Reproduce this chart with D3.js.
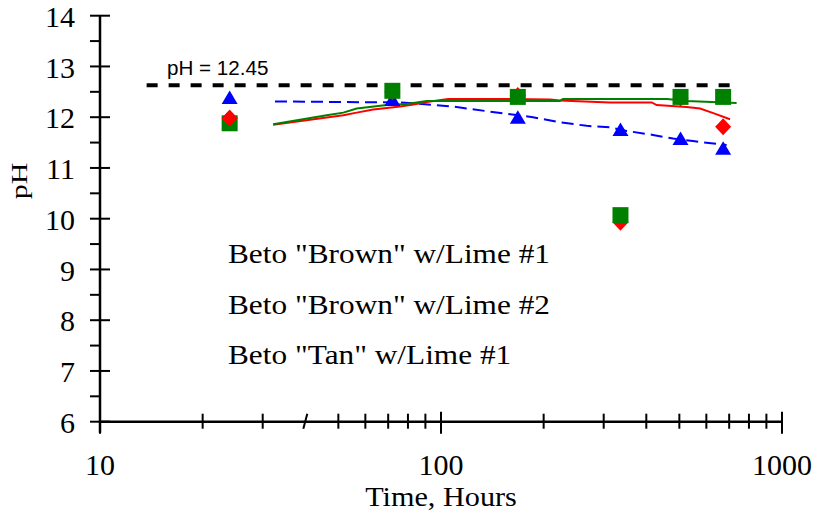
<!DOCTYPE html>
<html><head><meta charset="utf-8">
<script src="https://cdn.jsdelivr.net/npm/d3@7/dist/d3.min.js"></script>
<style>body{margin:0;background:#fff}svg{display:block}</style>
</head><body>
<svg id="chart" width="817" height="516"></svg>
<script>
// ---- data ----
const markerTimes = [24, 72, 168, 336, 504, 672];
const brown1Marks = [11.98, 12.50, 12.43, 9.93, 12.38, 11.81];   // red diamonds
const brown2Marks = [11.88, 12.52, 12.40, 10.07, 12.40, 12.40];  // green squares
const tan1Marks   = [12.37, 12.33, 11.98, 11.74, 11.56, 11.37];  // blue triangles

const brown1LineT = [32.2, 41.3, 51.7, 56.6, 63.3, 75.9, 83, 90.8, 105, 149, 209, 223, 313, 415, 429, 525, 575, 629, 704];
const brown1LineV = [11.85, 11.95, 12.04, 12.09, 12.15, 12.21, 12.25, 12.30, 12.36, 12.36, 12.35, 12.33, 12.29, 12.29, 12.24, 12.20, 12.17, 12.08, 11.96];
const brown2LineT = [32.2, 46.2, 51.7, 56.6, 69.3, 79.3, 90.8, 223, 228, 460, 525, 736];
const brown2LineV = [11.86, 12.04, 12.09, 12.17, 12.24, 12.26, 12.32, 12.32, 12.36, 12.36, 12.32, 12.28];
const tan1LineT = [32.6, 75.9, 84.9, 108.4, 139.2, 186, 223, 267.5, 313, 350, 418.5, 479, 548, 688];
const tan1LineV = [12.31, 12.29, 12.27, 12.21, 12.11, 12.00, 11.90, 11.83, 11.80, 11.73, 11.65, 11.58, 11.53, 11.45];

const refLineT = [13.7, 733];
const refLineLevel = 12.63;
const refLabel = "pH = 12.45";

const legendLabels = ['Beto "Brown" w/Lime #1', 'Beto "Brown" w/Lime #2', 'Beto "Tan" w/Lime #1'];
const xMajorTicks = [10, 100, 1000];
const xMinorTicks = [20, 30, 40, 50, 60, 70, 80, 90, 200, 300, 400, 500, 600, 700, 800, 900];
const yMajorTicks = [6, 7, 8, 9, 10, 11, 12, 13, 14];
const yMinorTicks = [6.5, 7.5, 8.5, 9.5, 10.5, 11.5, 12.5, 13.5];
const xTitle = "Time, Hours";
const yTitle = "pH";
const redOnTopTimes = [24];

// ---- layout ----
const svg = d3.select("#chart");
const x = d3.scaleLog().domain([10, 1000]).range([100, 782]);
const y = d3.scaleLinear().domain([6, 14]).range([421.7, 15.7]);
const serif = "'Liberation Serif','Times New Roman',serif";
const sans = "'Liberation Sans',Arial,sans-serif";

// axes lines
svg.append("line").attr("x1", x(10)).attr("x2", x(1000)).attr("y1", y(6)).attr("y2", y(6))
  .attr("stroke", "#000").attr("stroke-width", 2.5);
svg.append("line").attr("x1", x(10)).attr("x2", x(10)).attr("y1", y(6)+11).attr("y2", y(14))
  .attr("stroke", "#000").attr("stroke-width", 2.5);

// y ticks
svg.selectAll(".ymaj").data(yMajorTicks).enter().append("line")
  .attr("x1", x(10)-10).attr("x2", x(10)+10).attr("y1", d => y(d)).attr("y2", d => y(d))
  .attr("stroke", "#000").attr("stroke-width", 2);
svg.selectAll(".ymin").data(yMinorTicks).enter().append("line")
  .attr("x1", x(10)-10).attr("x2", x(10)).attr("y1", d => y(d)).attr("y2", d => y(d))
  .attr("stroke", "#000").attr("stroke-width", 2);
svg.selectAll(".ylab").data(yMajorTicks).enter().append("text")
  .attr("x", 75).attr("y", d => y(d)).attr("dy", "0.37em")
  .attr("text-anchor", "end").attr("font-family", serif).attr("font-size", 30).text(d => d);

// x ticks
svg.selectAll(".xmaj").data(xMajorTicks).enter().append("line")
  .attr("x1", d => x(d)).attr("x2", d => x(d)).attr("y1", y(6)-10).attr("y2", y(6)+12)
  .attr("stroke", "#000").attr("stroke-width", 2);
svg.selectAll(".xmin").data(xMinorTicks).enter().append("line")
  .attr("x1", d => x(d) - (d === 40 ? 2 : 0)).attr("x2", d => x(d) + (d === 40 ? 2 : 0))
  .attr("y1", y(6)+7).attr("y2", y(6)-8)
  .attr("stroke", "#000").attr("stroke-width", 2);
svg.selectAll(".xlab").data(xMajorTicks).enter().append("text")
  .attr("x", d => x(d)).attr("y", 475).attr("text-anchor", "middle")
  .attr("font-family", serif).attr("font-size", 30).text(d => d);

// titles (slightly wide lettering, as in the reference)
svg.append("text").attr("transform", `translate(${x(100)},506) scale(1.14,1)`).attr("text-anchor", "middle")
  .attr("font-family", serif).attr("font-size", 26.5).text(xTitle);
svg.append("text").attr("transform", "translate(27,181) rotate(-90) scale(1,0.8)").attr("text-anchor", "middle")
  .attr("font-family", serif).attr("font-size", 30).text(yTitle);

// reference line
svg.append("line").attr("x1", x(refLineT[0])).attr("x2", x(refLineT[1]))
  .attr("y1", y(refLineLevel)).attr("y2", y(refLineLevel))
  .attr("stroke", "#000").attr("stroke-width", 4).attr("stroke-dasharray", "11,11");
svg.append("text").attr("transform", "translate(167,75) scale(1.03,1)").attr("font-family", sans).attr("font-size", 20)
  .text(refLabel);

// lines
const line = d3.line().x(d => x(d[0])).y(d => y(d[1]));
const zip = (a, b) => a.map((t, i) => [t, b[i]]);
svg.append("path").attr("d", line(zip(tan1LineT, tan1LineV))).attr("fill", "none")
  .attr("stroke", "#0000ff").attr("stroke-width", 2).attr("stroke-dasharray", "12,6");
svg.append("path").attr("d", line(zip(brown1LineT, brown1LineV))).attr("fill", "none")
  .attr("stroke", "#ff0000").attr("stroke-width", 2);
svg.append("path").attr("d", line(zip(brown2LineT, brown2LineV))).attr("fill", "none")
  .attr("stroke", "#008000").attr("stroke-width", 2);

// markers
const tri = "M0,-8L8,5.5L-8,5.5Z";
const dia = "M0,-8.5L8,0L0,8.5L-8,0Z";
const sq = "M-8,-8H8V8H-8Z";
function marks(times, vals, path, color, filter) {
  svg.append("g").selectAll("path").data(zip(times, vals).filter(filter || (() => true))).enter().append("path")
    .attr("transform", d => `translate(${x(d[0])},${y(d[1])})`).attr("d", path).attr("fill", color);
}
marks(markerTimes, tan1Marks, tri, "#0000ff");
marks(markerTimes, brown1Marks, dia, "#ff0000");
marks(markerTimes, brown2Marks, sq, "#008000");
marks(markerTimes, brown1Marks, dia, "#ff0000", d => redOnTopTimes.includes(d[0]));

// legend text
svg.selectAll(".leg").data(legendLabels).enter().append("text")
  .attr("transform", (d, i) => `translate(228,${263 + i * 50.5}) scale(1.118,1)`)
  .attr("font-family", serif).attr("font-size", 28).text(d => d);
</script>
</body></html>
